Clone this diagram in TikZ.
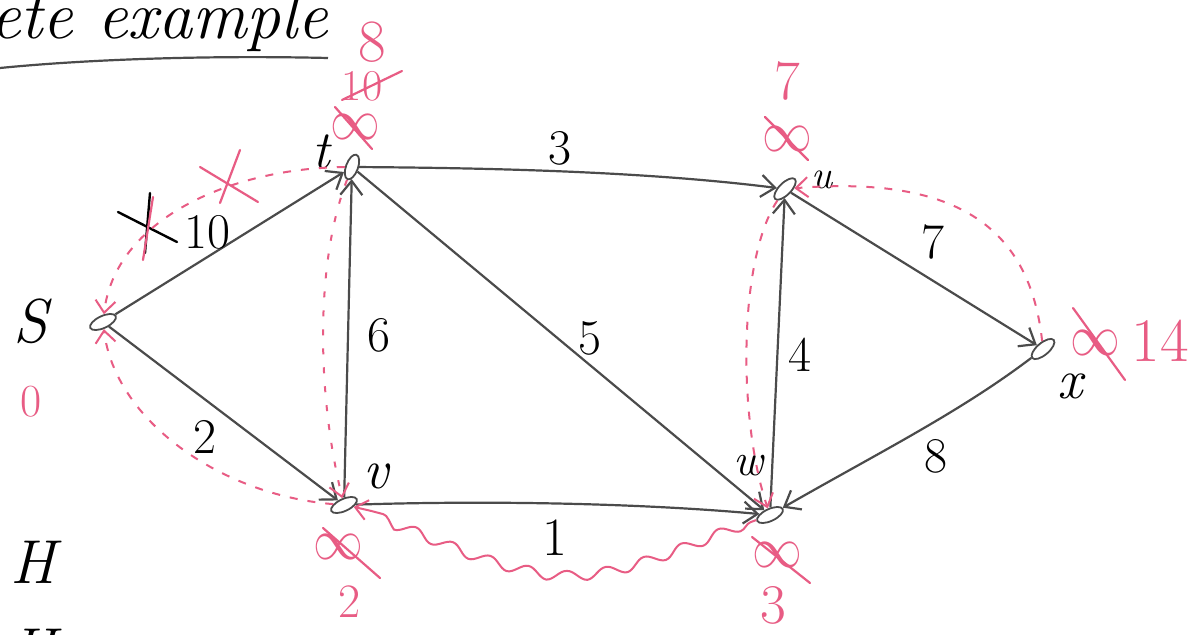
\documentclass[tikz,border=0pt]{standalone}
\usetikzlibrary{arrows.meta,shapes.geometric,decorations.pathmorphing}
\definecolor{pinkc}{RGB}{232,92,132}
\definecolor{inkc}{RGB}{75,75,75}
\tikzset{
 vtx/.style={ellipse,draw=inkc,line width=1.8pt,minimum width=28pt,minimum height=12pt,inner sep=0pt},
 edge/.style={draw=inkc,line width=2.2pt,-{Straight Barb[length=14pt,width=22pt,line width=2.2pt]}},
 pkarrow/.style={draw=pinkc,line width=2pt,-{Straight Barb[length=12pt,width=20pt,line width=2pt]}},
 pkdash/.style={pkarrow,dash pattern=on 8pt off 10pt},
 pkdot/.style={pkarrow,dash pattern=on 6pt off 13pt},
 lbl/.style={font=\fontsize{#1}{#1}\selectfont\itshape,text=black,inner sep=0pt},
 lbl/.default=50,
 num/.style={font=\fontsize{#1}{#1}\selectfont,text=black,inner sep=0pt},
 num/.default=50,
 plbl/.style={font=\fontsize{#1}{#1}\selectfont,text=pinkc,inner sep=0pt},
 inf/.style={font=\fontsize{20}{20}\selectfont,xscale=2.4,yscale=2.8,text=pinkc,inner sep=0pt},
 strike/.style={draw=pinkc,line width=2.2pt,line cap=round},
 blk/.style={draw=black,line width=2.4pt,line cap=round},
}
\begin{document}
\begin{tikzpicture}[x=1pt,y=-1pt]
\useasboundingbox (0,0) rectangle (1193,634);
\fill[white] (0,0) rectangle (1193,634);
\begin{scope}
\clip (0,0) rectangle (1193,634);

% title
\node[lbl=68,anchor=base west] (title) at (-10,38) {ete example};
\draw[inkc,line width=2.2pt] (0,68) .. controls (80,60) and (200,55) .. (328,58);

% left column
\node[lbl=62] (sl) at (31,321) {S};
\node[plbl=46] (s0) at (31,402) {0};
\node[lbl=62] (h1) at (33,562) {H};
\node[lbl=62] (h2) at (33,650) {H};

% vertices
\node[vtx,rotate=25] (s) at (103,322) {};
\node[vtx,rotate=70,minimum width=26pt] (t) at (352,167) {};
\node[vtx,rotate=45] (u) at (785,189) {};
\node[vtx,rotate=25] (v) at (344,505) {};
\node[vtx,rotate=25] (w) at (770,515) {};
\node[vtx,rotate=40] (x) at (1043,349) {};

% vertex names
\node[lbl=54] (tn) at (321,152) {t};
\node[lbl=40] (un) at (822,180) {u};
\node[lbl=56] (vn) at (376,476) {v};
\node[lbl=46] (wn) at (748,466) {w};
\node[lbl=56] (xn) at (1070,386) {x};

% black edges
\draw[edge] (s) -- (t);
\draw[edge] (s) -- (v);
\draw[edge] (t) .. controls (500,168) and (650,172) .. (u);
\draw[edge] (v) -- (t);
\draw[edge] (t) -- (w);
\draw[edge] (v) .. controls (500,500) and (650,504) .. (w);
\draw[edge] (w) -- (u);
\draw[edge] (u) -- (x);
\draw[edge] (x) .. controls (960,412) and (880,452) .. (w);

% edge labels
\node[num] (l10) at (207,232) {10};
\node[num] (l2) at (205,437) {2};
\node[num] (l3) at (560,148) {3};
\node[num] (l6) at (379,335) {6};
\node[num] (l5) at (590,338) {5};
\node[num=54] (l1) at (555,538) {1};
\node[num] (l4) at (800,355) {4};
\node[num] (l7) at (933,242) {7};
\node[num] (l8) at (936,456) {8};
\draw[blk] (118,212) -- (177,242);
\draw[blk] (150,193) -- (145,253);

% pink paths
\draw[pkdash] (t) .. controls (230,168) and (115,220) .. (s);
\draw[pkdash] (v) .. controls (220,495) and (115,420) .. (s);
\draw[pkdot] (t) .. controls (316,260) and (316,390) .. (v);
\draw[pkarrow,decorate,decoration={snake,amplitude=5pt,segment length=40pt,pre length=6pt,post length=18pt}]
  (w) .. controls (680,548) and (610,585) .. (540,568) .. controls (470,555) and (420,520) .. (v);
\draw[pkdash] (u) .. controls (738,260) and (738,420) .. (w);
\draw[pkdash] (x) .. controls (1030,230) and (960,175) .. (u);

% pink cross-outs on s-t
\draw[strike] (153,197) -- (143,260);
\draw[strike] (200,167) -- (258,202);
\draw[strike] (240,150) -- (220,203);

% pink distance labels
% t
\node[plbl=60] (t8) at (372,42) {8};
\node[plbl=44] (t10) at (362,86) {10};
\draw[strike] (342,100) -- (402,71);
\node[inf] (tinf) at (355,127) {$\infty$};
\draw[strike] (335,107) -- (372,149);
% u
\node[plbl=56] (u7) at (787,81) {7};
\node[inf] (uinf) at (787,139) {$\infty$};
\draw[strike] (765,117) -- (808,160);
% x
\node[inf] (xinf) at (1095,343) {$\infty$};
\draw[strike] (1073,308) -- (1125,380);
\node[plbl=62] (x14) at (1160,341) {14};
% w
\node[inf] (winf) at (777,555) {$\infty$};
\draw[strike] (752,537) -- (810,583);
\node[plbl=56] (w3) at (773,605) {3};
% v
\node[inf] (vinf) at (338,547) {$\infty$};
\draw[strike] (323,528) -- (380,578);
\node[plbl=48] (v2) at (350,602) {2};

\end{scope}
\end{tikzpicture}
\end{document}
